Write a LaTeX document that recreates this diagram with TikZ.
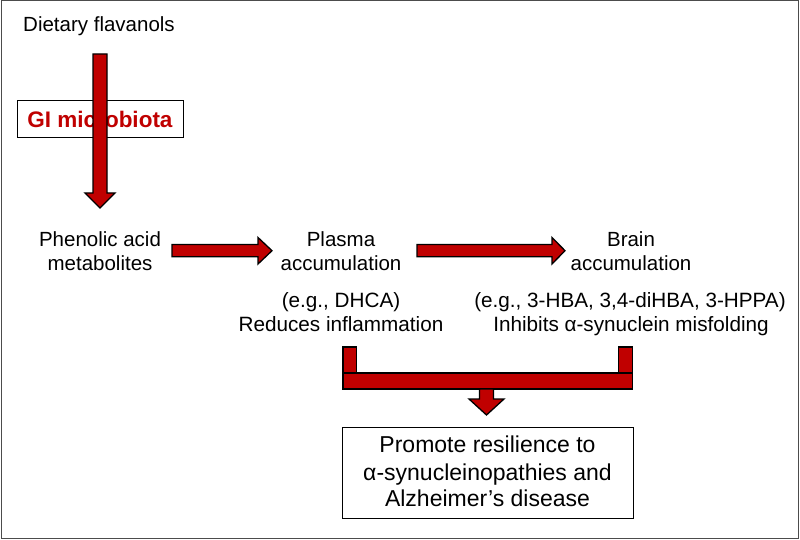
\documentclass[tikz,border=0pt]{standalone}
\usepackage{fontspec}
\setmainfont{Liberation Sans}
\definecolor{arrred}{HTML}{C00000}
\definecolor{gired}{HTML}{C00000}
\begin{document}
\begin{tikzpicture}[x=1pt,y=-1pt,
  lbl/.style={anchor=base,inner sep=0pt,font=\fontsize{20.5}{24}\selectfont},
  small/.style={anchor=base,inner sep=0pt,font=\fontsize{20.7}{24}\selectfont},
  big/.style={anchor=base,inner sep=0pt,font=\fontsize{23}{27}\selectfont},
  blockarrow/.style={fill=arrred,draw=black,line width=1.3pt,line join=miter},
  framebox/.style={draw=black,line width=0.8pt,fill=white}]
\useasboundingbox (0,0) rectangle (800,540);
\draw[draw=black!70,line width=1pt] (1,1) rectangle (798.5,538.5);

% texts
\node[lbl] (diet) at (99,32) {Dietary flavanols};

\draw[framebox] (17,100) rectangle (183,137);
\node[anchor=base,inner sep=0pt,font=\fontsize{22.5}{26}\selectfont\bfseries,text=gired] (gi) at (100,128) {GI microbiota};

% down arrow over GI box
\draw[blockarrow] (93,54) -- (107,54) -- (107,193) -- (115,193) -- (100,208) -- (85,193) -- (93,193) -- cycle;

\node[lbl] (phen1) at (100,246) {Phenolic acid};
\node[lbl] (phen2) at (100,270) {metabolites};

\node[lbl] (plas1) at (341,246) {Plasma};
\node[lbl] (plas2) at (341,270) {accumulation};

\node[lbl] (brain1) at (631,246) {Brain};
\node[lbl] (brain2) at (631,270) {accumulation};

\node[small] (eg1) at (341,307) {(e.g., DHCA)};
\node[small] (red) at (341,331) {Reduces inflammation};
\node[small] (eg2) at (630,307) {(e.g., 3-HBA, 3,4-diHBA, 3-HPPA)};
\node[small] (inh) at (631,331) {Inhibits α-synuclein misfolding};

% right arrows
\draw[blockarrow] (172,244.5) -- (258,244.5) -- (258,237.5) -- (272,250.7) -- (258,264) -- (258,256.7) -- (172,256.7) -- cycle;
\draw[blockarrow] (417,244.5) -- (552,244.5) -- (552,237.5) -- (565,250.7) -- (552,264) -- (552,256.7) -- (417,256.7) -- cycle;

% bracket arrow
\draw[blockarrow] (343,347) rectangle (356.5,373);
\draw[blockarrow] (618.5,347) rectangle (632.5,373);
\draw[blockarrow] (343,373) rectangle (632.5,389);
\draw[blockarrow] (479.5,389) -- (493.5,389) -- (493.5,399) -- (504,399) -- (486.5,415) -- (469,399) -- (479.5,399) -- cycle;

% result box
\draw[framebox] (342,427) rectangle (633,518);
\node[big] (res1) at (487.5,452.7) {Promote resilience to};
\node[big] (res2) at (487.5,480) {α-synucleinopathies and};
\node[big] (res3) at (487.5,506.7) {Alzheimer’s disease};
\end{tikzpicture}
\end{document}
